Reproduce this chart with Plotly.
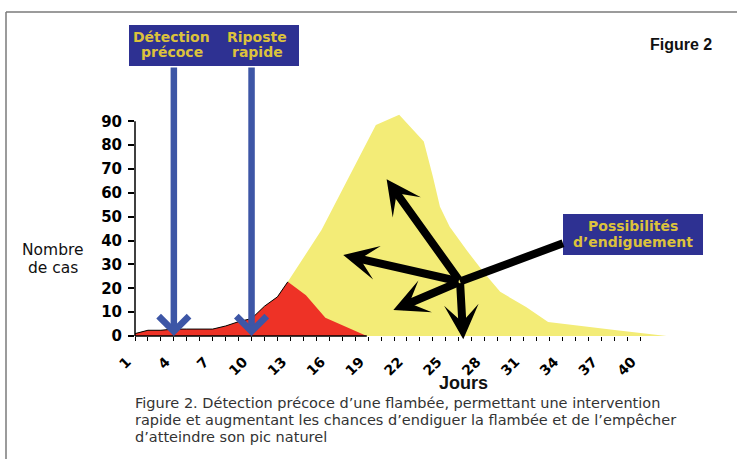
import plotly.graph_objects as go

# ---------------- data ----------------
red_days = [1, 2, 3, 4, 5, 6, 7, 8, 9, 10, 11, 12, 12.8, 14.2, 15.7, 18.9]
red_cases = [1.0, 2.4, 2.4, 2.9, 2.9, 2.9, 2.9, 4.2, 6.0, 7.3, 12.5, 16.4, 22.7, 17.1, 7.7, 0.0]

yellow_days = [1, 2, 3, 4, 5, 6, 7, 8, 9, 10, 11, 12, 12.8, 15.4, 19.6, 21.4, 23.3, 24.0,
               24.55, 25.3, 26.6, 28.0, 29.2, 31.2, 32.9, 38.2, 42.05]
yellow_cases = [1.0, 2.4, 2.4, 2.9, 2.9, 2.9, 2.9, 4.2, 6.0, 7.3, 12.5, 16.4, 22.7, 44.4, 88.4, 92.7,
                81.5, 66.8, 54.2, 45.8, 36.0, 26.2, 18.5, 12.2, 5.9, 2.4, 0.0]

tick_days = list(range(1, 41))
tick_labels = [str(d) if (d - 1) % 3 == 0 else "" for d in tick_days]
y_ticks = list(range(0, 100, 10))

detection_day = 4
response_day = 10

# containment arrows (centre and tips, in days / cases)
hub = (26.1, 22.8)
arrow_tips = [(20.43, 65.7), (17.08, 33.9), (20.95, 10.9), (26.35, -1.4)]
box_link = (34.05, 38.9)

# ---------------- geometry helpers ----------------
W, H = 737, 459
PL, PR, PT, PB = 135, 680, 109, 336          # plot box in pixels
PX_PER_DAY = 12.95
PX_PER_CASE = 2.386


def px(p):
    return (p - PL) / (PR - PL)


def py(p):
    return (PB - p) / (PB - PT)


x_range = [1, 1 + (PR - PL) / PX_PER_DAY]
y_range = [0, (PB - PT) / PX_PER_CASE]
box_bottom_val = (PB - 66) / PX_PER_CASE

RED = "#EE3226"
YELLOW = "#F3EC77"
BLUE = "#3D56A6"
NAVY = "#2E3192"
GOLD = "#DCC23C"

fig = go.Figure()
fig.add_trace(go.Scatter(x=yellow_days, y=yellow_cases, mode="lines", fill="tozeroy",
                         fillcolor=YELLOW, line=dict(width=0, color=YELLOW),
                         hoverinfo="skip", showlegend=False))
fig.add_trace(go.Scatter(x=red_days, y=red_cases, mode="lines", fill="tozeroy",
                         fillcolor=RED, line=dict(width=0, color=RED),
                         hoverinfo="skip", showlegend=False))
peak = red_cases.index(max(red_cases)) + 1
fig.add_trace(go.Scatter(x=red_days[:peak], y=red_cases[:peak], mode="lines",
                         line=dict(width=1, color="black"),
                         hoverinfo="skip", showlegend=False))

shapes = []
# frame lines
shapes.append(dict(type="line", xref="paper", yref="paper", x0=px(6), x1=px(737),
                   y0=py(12), y1=py(12), line=dict(color="#7a7a7a", width=1.5)))
shapes.append(dict(type="line", xref="paper", yref="paper", x0=px(6), x1=px(6),
                   y0=py(12), y1=py(459), line=dict(color="#7a7a7a", width=1.5)))
# axis lines
shapes.append(dict(type="line", xref="paper", yref="y", x0=0, x1=0, y0=0, y1=90,
                   line=dict(color="black", width=1.5), layer="above"))
shapes.append(dict(type="line", xref="x", yref="paper", x0=1, x1=red_days[-1], y0=0, y1=0,
                   line=dict(color="black", width=1.5), layer="above"))
# boxes
shapes.append(dict(type="rect", xref="paper", yref="paper", x0=px(129), x1=px(299),
                   y0=py(25), y1=py(66), fillcolor=NAVY, line=dict(width=0), layer="above"))
shapes.append(dict(type="rect", xref="paper", yref="paper", x0=px(563), x1=px(703),
                   y0=py(214), y1=py(255), fillcolor=NAVY, line=dict(width=0), layer="above"))
# link from hub to box
shapes.append(dict(type="line", xref="x", yref="y", x0=hub[0], y0=hub[1],
                   x1=box_link[0], y1=box_link[1], line=dict(color="black", width=8),
                   layer="above"))

ann = []
for d in (detection_day, response_day):
    ann.append(dict(x=d, y=0, xref="x", yref="y", ax=d, ay=box_bottom_val, axref="x", ayref="y",
                    text="", showarrow=True, arrowhead=4, arrowsize=0.9, arrowwidth=6.5,
                    arrowcolor=BLUE, standoff=0))
for tx, ty in arrow_tips:
    ann.append(dict(x=tx, y=ty, xref="x", yref="y", ax=hub[0], ay=hub[1], axref="x", ayref="y",
                    text="", showarrow=True, arrowhead=3, arrowsize=0.72, arrowwidth=8,
                    arrowcolor="black", standoff=0))


def label(text, x, y, size, color, family, xanchor="center", weight="normal"):
    ann.append(dict(text=text, x=px(x), y=py(y), xref="paper", yref="paper", showarrow=False,
                    xanchor=xanchor, yanchor="middle",
                    font=dict(size=size, color=color, family=family, weight=weight)))


label("Détection", 171, 37, 14, GOLD, "DejaVu Sans", weight="bold")
label("précoce", 172, 52, 14, GOLD, "DejaVu Sans", weight="bold")
label("Riposte", 257, 37, 14, GOLD, "DejaVu Sans", weight="bold")
label("rapide", 257, 52, 14, GOLD, "DejaVu Sans", weight="bold")
label("Possibilités", 633, 226, 14, GOLD, "DejaVu Sans", weight="bold")
label("d’endiguement", 633, 242, 14, GOLD, "DejaVu Sans", weight="bold")
label("Figure 2", 681, 44, 16, "#111111", "Liberation Sans", weight="bold")
label("Nombre", 53, 250, 15.5, "#111111", "DejaVu Sans")
label("de cas", 53, 268, 15.5, "#111111", "DejaVu Sans")
label("Jours", 463, 383, 18, "#111111", "Liberation Sans", weight="bold")
cap_font = "DejaVu Sans"
label("Figure 2. Détection précoce d’une flambée, permettant une intervention", 133, 403, 14.5,
      "#333333", cap_font, xanchor="left")
label("rapide et augmentant les chances d’endiguer la flambée et de l’empêcher", 133, 420, 14.5,
      "#333333", cap_font, xanchor="left")
label("d’atteindre son pic naturel", 133, 437, 14.5, "#333333", cap_font, xanchor="left")

fig.update_layout(
    width=W, height=H,
    margin=dict(l=PL, r=W - PR, t=PT, b=H - PB, pad=0),
    paper_bgcolor="white", plot_bgcolor="white",
    xaxis=dict(range=x_range, tickmode="array", tickvals=tick_days, ticktext=tick_labels,
               tickangle=-45, ticks="outside", ticklen=4, tickwidth=1, tickcolor="black",
               ticklabelshift=-8, ticklabelstandoff=7,
               showline=False, showgrid=False, zeroline=False,
               tickfont=dict(family="DejaVu Sans", size=14, color="black", weight="bold")),
    yaxis=dict(range=y_range, tickmode="array", tickvals=y_ticks, ticks="outside", ticklen=6,
               tickwidth=1.5, tickcolor="black", showline=False, showgrid=False, zeroline=False,
               ticklabelstandoff=3,
               tickfont=dict(family="DejaVu Sans", size=15, color="black", weight="bold")),
    shapes=shapes,
    annotations=ann,
)

fig.write_html("out.html", config={"displayModeBar": False},
               post_script="document.body.style.margin='0px';")
